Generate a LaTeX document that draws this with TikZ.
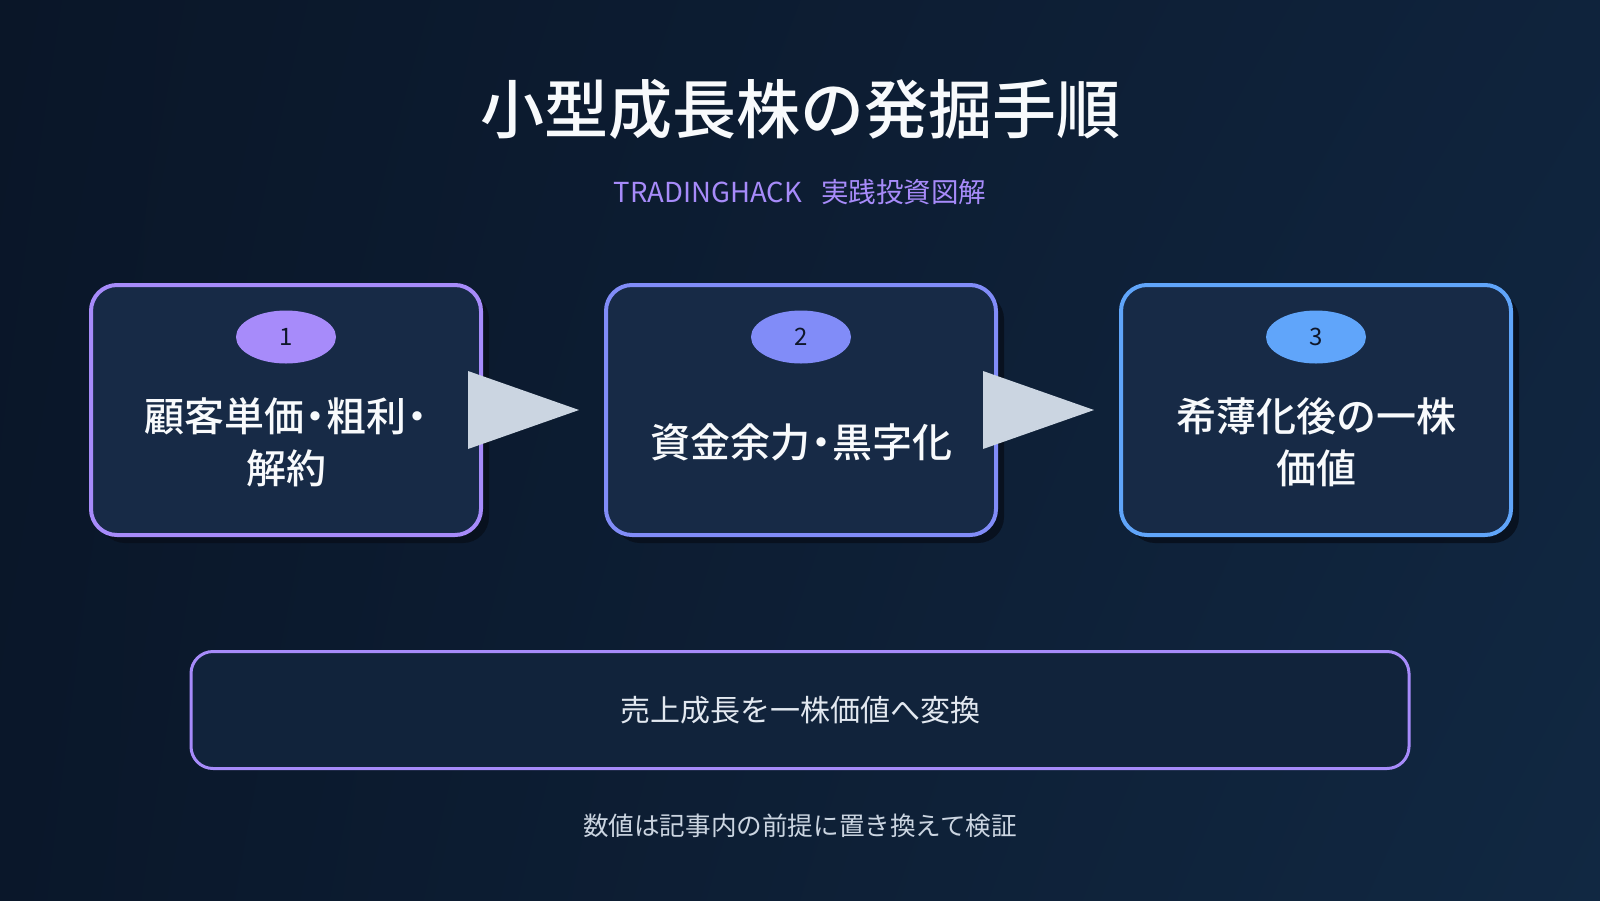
\documentclass[tikz,border=0pt]{standalone}
\usepackage{fontspec}
\setmainfont{Noto Sans CJK JP}[BoldFont={Noto Sans CJK JP Medium}]
\usetikzlibrary{positioning,calc,shadows,shadings,shapes.geometric}
\definecolor{bgA}{HTML}{0A1628}
\definecolor{bgB}{HTML}{0A172A}
\definecolor{bgC}{HTML}{0F233C}
\definecolor{bgD}{HTML}{112842}
\definecolor{boxfill}{HTML}{172A46}
\definecolor{notefill}{HTML}{11233B}
\definecolor{shadowc}{HTML}{08101D}
\definecolor{violet}{HTML}{A78BFA}
\definecolor{indigo}{HTML}{818CF8}
\definecolor{sky}{HTML}{60A5FA}
\definecolor{arrowc}{HTML}{CBD5E1}
\definecolor{badgetext}{HTML}{0F172A}
\definecolor{notetext}{HTML}{E2E8F0}
\definecolor{footc}{HTML}{CBD5E1}
\definecolor{titlec}{HTML}{F8FAFC}
\newcommand{\nakaten}{\makebox[.55em]{・}}

\begin{document}
\begin{tikzpicture}[x=1pt,y=-1pt,node distance=121pt,
  step box/.style={draw,line width=4pt,rounded corners=26pt,fill=boxfill,
    minimum width=390pt,minimum height=250pt,
    drop shadow={shadow xshift=8pt,shadow yshift=-8pt,fill=shadowc,opacity=.9}},
  badge/.style={ellipse,minimum width=100pt,minimum height=53pt,inner sep=0pt,
    text=badgetext,font=\fontsize{24}{28}\selectfont},
  step text/.style={text=titlec,align=center,font=\fontsize{40}{52}\selectfont\bfseries},
  pointer/.style={fill=arrowc},
  note box/.style={draw=violet,line width=3pt,rounded corners=22pt,fill=notefill,
    minimum width=1218pt,minimum height=117pt,text=notetext,
    font=\fontsize{30}{36}\selectfont}]
  \shade[upper left=bgA,upper right=bgC,lower left=bgB,lower right=bgD]
    (0,0) rectangle (1600,900);
  \useasboundingbox (0,0) rectangle (1600,900);

  \node[text=titlec,font=\fontsize{64}{70}\selectfont\bfseries] (title) at (800,109) {小型成長株の発掘手順};
  \node[text=violet,font=\fontsize{27.5}{32}\selectfont] (sub) at (800,192) {TRADINGHACK\hspace{0.7em}実践投資図解};

  \node[step box,draw=violet] (1) at (286,410) {};
  \node[step box,draw=indigo,right=of 1] (2) {};
  \node[step box,draw=sky,right=of 2] (3) {};

  \node[badge,fill=violet] (b1) at ($(1.north)+(0,54)$) {1};
  \node[badge,fill=indigo] (b2) at ($(2.north)+(0,54)$) {2};
  \node[badge,fill=sky] (b3) at ($(3.north)+(0,54)$) {3};

  \node[step text] (t1) at ($(1.center)+(0,32)$) {顧客単価\nakaten 粗利\nakaten\\解約};
  \node[step text] (t2) at ($(2.center)+(0,32)$) {資金余力\nakaten 黒字化};
  \node[step text] (t3) at ($(3.center)+(0,32)$) {希薄化後の一株\\価値};

  \fill[pointer] ($(1.east)+(-15,-39)$) -- ($(1.east)+(-15,39)$) -- ($(2.west)+(-25,0)$) -- cycle;
  \fill[pointer] ($(2.east)+(-15,-39)$) -- ($(2.east)+(-15,39)$) -- ($(3.west)+(-25,0)$) -- cycle;

  \node[note box] (note) at (800,710) {売上成長を一株価値へ変換};
  \node[text=footc,font=\fontsize{25.6}{30}\selectfont] (foot) at (800,826) {数値は記事内の前提に置き換えて検証};
\end{tikzpicture}
\end{document}
